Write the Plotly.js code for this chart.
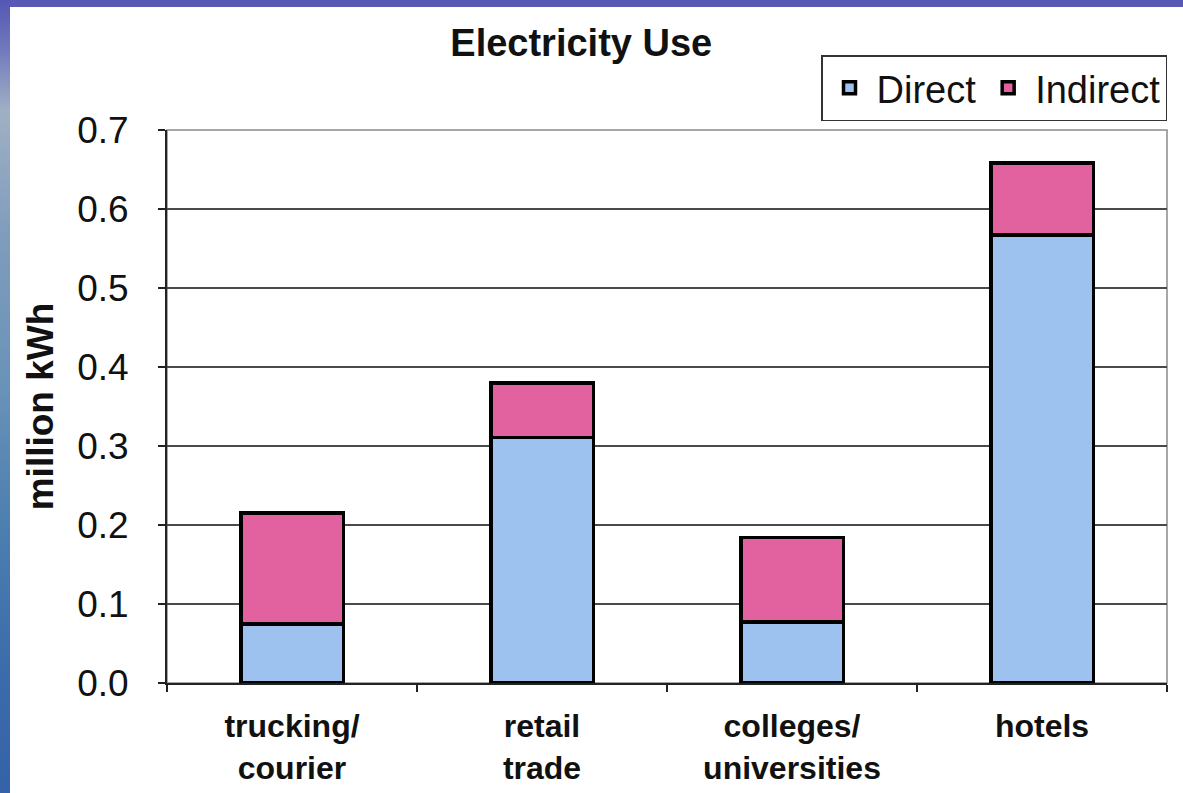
<!DOCTYPE html>
<html>
<head>
<meta charset="utf-8">
<script src="https://cdn.plot.ly/plotly-3.0.1.min.js"></script>
<style>
  html, body { margin: 0; padding: 0; width: 1183px; height: 793px; overflow: hidden; }
  body {
    background: linear-gradient(to bottom, #5656b4 0%, #6f78bc 6%, #9fb0c4 14%, #7f9cbc 30%, #6a93b8 48%, #4d7fb0 66%, #3d6cab 84%, #3562a8 100%);
  }
  #chart { position: absolute; left: 10px; top: 7px; width: 1173px; height: 786px; background: #ffffff; }
</style>
</head>
<body>
<div id="chart"></div>
<script>
// Electricity use by sector, million kWh
const categories = ['trucking/<br>courier', 'retail<br>trade', 'colleges/<br>universities', 'hotels'];
const directUse = [0.075, 0.311, 0.077, 0.567];
const indirectUse = [0.140, 0.069, 0.107, 0.091];
const yTicks = [0, 0.1, 0.2, 0.3, 0.4, 0.5, 0.6, 0.7];

const FONT = 'Liberation Sans, Arial, sans-serif';

const traces = [
  {
    type: 'bar', name: 'Direct', x: categories, y: directUse,
    marker: { color: '#9dc2f0', line: { color: '#000000', width: 3.5 } },
    hoverinfo: 'skip'
  },
  {
    type: 'bar', name: 'Indirect', x: categories, y: indirectUse,
    marker: { color: '#e2619f', line: { color: '#000000', width: 3.5 } },
    hoverinfo: 'skip'
  }
];

const layout = {
  width: 1173, height: 786,
  margin: { l: 157, r: 16, t: 123, b: 110, pad: 0 },
  paper_bgcolor: '#ffffff', plot_bgcolor: '#ffffff',
  barmode: 'stack', bargap: 0.59,
  font: { family: FONT, color: '#111111' },
  showlegend: true,
  title: {
    text: '<b>Electricity Use</b>',
    font: { family: FONT, size: 38, color: '#111111' },
    xref: 'container', x: 0.487, xanchor: 'center',
    yref: 'container', y: 0.955, yanchor: 'middle'
  },
  legend: {
    orientation: 'h', xref: 'paper', x: 1, xanchor: 'right',
    yref: 'paper', y: 1.016, yanchor: 'bottom',
    bgcolor: '#ffffff', bordercolor: '#333333', borderwidth: 1.5,
    font: { family: FONT, size: 38, color: '#111111' },
    traceorder: 'normal', itemwidth: 44
  },
  xaxis: {
    type: 'category', tickson: 'boundaries',
    ticks: 'outside', ticklen: 7, tickwidth: 2, tickcolor: '#222222',
    showline: true, linecolor: '#222222', linewidth: 2,
    showgrid: false, zeroline: false,
    tickfont: { family: FONT, size: 32, color: '#111111', weight: 'bold' },
    ticklabelstandoff: 14
  },
  yaxis: {
    range: [0, 0.7], tickvals: yTicks, tickformat: '.1f',
    ticks: 'outside', ticklen: 7, tickwidth: 2, tickcolor: '#222222',
    showline: true, linecolor: '#222222', linewidth: 2,
    showgrid: true, gridcolor: '#4a4a4a', gridwidth: 2,
    zeroline: false,
    tickfont: { family: FONT, size: 37, color: '#111111' },
    ticklabelstandoff: 22,
    title: { text: '<b>million kWh</b>', font: { family: FONT, size: 37, color: '#111111' }, standoff: 12 }
  },
  shapes: [
    {
      type: 'rect', xref: 'paper', yref: 'paper', x0: 0, x1: 1, y0: 0, y1: 1,
      line: { color: '#8a8a8a', width: 1.5 }, layer: 'below'
    }
  ]
};

Plotly.newPlot('chart', traces, layout, { staticPlot: true, displayModeBar: false });
</script>
</body>
</html>
